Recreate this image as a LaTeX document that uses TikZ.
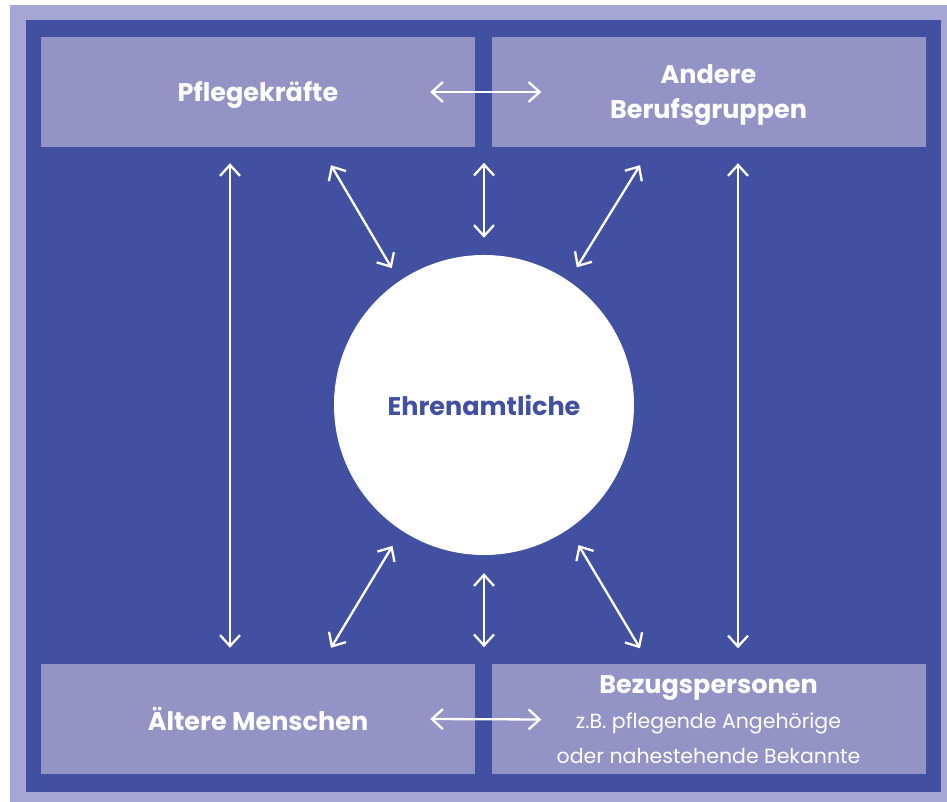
\documentclass[tikz,border=0pt]{standalone}
\usepackage{fontspec}
\setmainfont{Poppins}
\usetikzlibrary{arrows.meta}
\definecolor{frameblue}{HTML}{4150A0}
\definecolor{boxblue}{HTML}{9393C6}
\definecolor{edgeblue}{HTML}{A5A6D3}

\begin{document}
\begin{tikzpicture}[x=1pt,y=1pt]
	\tikzstyle{box}=[rectangle,fill=boxblue,minimum width=434pt,minimum height=110pt,inner sep=0pt,text depth=0pt,text=white,align=center,font=\fontsize{25.5}{35}\selectfont\bfseries]
	\tikzstyle{link}=[draw=white,line width=2.3pt,{Straight Barb[length=11pt,width=20pt]}-{Straight Barb[length=11pt,width=20pt]}]
	\useasboundingbox (0,0) rectangle (947,802);
	\fill[edgeblue] (10,0) rectangle (947,797);
	\fill[frameblue] (26,10) rectangle (941,782);
	\node[box] (1) at (258,710) {Pflegekräfte};
	\node[box] (2) at (708.5,710) {Andere\\Berufsgruppen};
	\node[box] (3) at (258,83) {Ältere Menschen};
	\node[box,font=\fontsize{20.5}{35}\selectfont] (4) at (708.5,82.5) {{\fontsize{25.5}{35}\selectfont\bfseries Bezugspersonen}\\z.B. pflegende Angehörige\\oder nahestehende Bekannte};
	\node[circle,fill=white,minimum size=300pt,inner sep=0pt,text=frameblue,font=\fontsize{25.5}{30}\selectfont\bfseries] (c) at (484,397) {Ehrenamtliche};
	\draw[link] ([xshift=-45pt]1.east) -- ([xshift=50pt]2.west);
	\draw[link] ([xshift=-45pt]3.east) -- ([xshift=50pt]4.west);
	\draw[link] ([shift={(-28pt,-16pt)}]1.south) -- ([shift={(-28pt,16pt)}]3.north);
	\draw[link] ([shift={(29.5pt,-16pt)}]2.south) -- ([shift={(29.5pt,16pt)}]4.north);
	\draw[link] ([yshift=92pt]c.north) -- ([yshift=17pt]c.north);
	\draw[link] ([yshift=-18pt]c.south) -- ([yshift=-92pt]c.south);
	\draw[link] ([shift={(73pt,-18pt)}]1.south) -- ([shift={(124:165pt)}]c.center);
	\draw[link] ([shift={(-68.5pt,-18pt)}]2.south) -- ([shift={(56:166pt)}]c.center);
	\draw[link] ([shift={(237:168pt)}]c.center) -- ([shift={(73pt,16pt)}]3.north);
	\draw[link] ([shift={(304:169pt)}]c.center) -- ([shift={(-68.5pt,16pt)}]4.north);
\end{tikzpicture}
\end{document}
